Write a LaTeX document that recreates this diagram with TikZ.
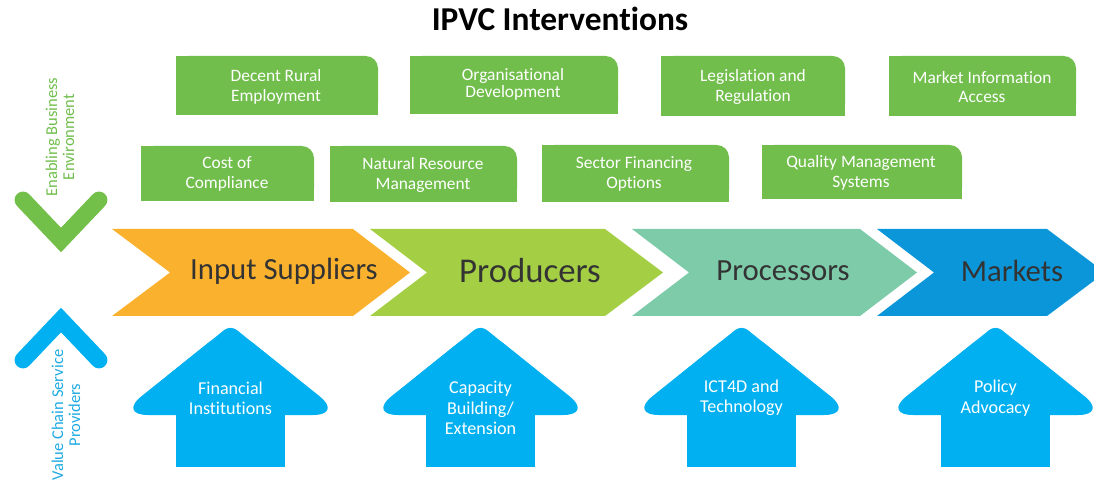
\documentclass[tikz,border=0pt]{standalone}
\usepackage{fontspec}
\setmainfont{Carlito}[Ligatures=NoCommon]

\definecolor{boxgreen}{RGB}{113,190,76}
\definecolor{vgreen}{RGB}{114,191,74}
\definecolor{inputorange}{RGB}{250,178,46}
\definecolor{producerlime}{RGB}{164,207,69}
\definecolor{processorteal}{RGB}{126,203,170}
\definecolor{marketblue}{RGB}{10,150,216}
\definecolor{serviceblue}{RGB}{0,176,240}
\definecolor{stagegray}{RGB}{51,51,51}
\definecolor{sidegreen}{RGB}{112,190,75}
\definecolor{sideblue}{RGB}{30,170,225}

% green intervention box: only the top-right corner is rounded
\newcommand\ipvcbox[4]{%
  \fill[boxgreen, rounded corners=7pt] (#1,#2) rectangle (#3,#4);
  \fill[boxgreen] (#1,#2) rectangle ({#3-20},#4);
  \fill[boxgreen] (#1,{#2+20}) rectangle (#3,#4);
}
% upward block arrow for a service provider, centred on x = #1:
% a head with well rounded wing tips, a sharper tip and a square shaft
\newcommand\ipvcarrow[1]{%
  \fill[serviceblue, rounded corners=17pt] ({#1-112.5},415) -- (#1,325) -- ({#1+112.5},415) -- cycle;
  \fill[serviceblue, rounded corners=4.5pt] ({#1-68.4},380) -- (#1,325) -- ({#1+68.4},380) -- cycle;
  \fill[serviceblue] ({#1-54.5},405) rectangle ({#1+54.5},467);
}

\begin{document}
\begin{tikzpicture}[x=0.02cm, y=-0.02cm,
  boxtext/.style={text=white, align=center, inner sep=0pt,
    font=\fontsize{9.9}{11.3}\selectfont},
  stagetext/.style={text=stagegray, inner sep=0pt,
    font=\fontsize{17.5}{20}\selectfont},
  arrowtext/.style={text=white, align=center, inner sep=0pt,
    font=\fontsize{10.3}{11.6}\selectfont},
  sidetext/.style={align=center, rotate=90, inner sep=0pt,
    font=\fontsize{9.4}{9.6}\selectfont}]

\useasboundingbox (0,0) rectangle (1094,482);
\clip (0,0) rectangle (1094,482);

% title
\node[font=\bfseries\fontsize{19}{21}\selectfont, inner sep=0pt] (title) at (560,19) {IPVC Interventions};

% enabling business environment boxes
\ipvcbox{176}{56}{378}{115}
\ipvcbox{410}{56}{618}{114}
\ipvcbox{661}{56}{845}{116}
\ipvcbox{889}{56}{1076}{116}
\ipvcbox{141}{146}{314}{201}
\ipvcbox{330}{146}{517}{202}
\ipvcbox{542}{145}{729}{202}
\ipvcbox{762}{145}{962}{199}

\node[boxtext] (dre) at (276,87) {Decent Rural\\Employment};
\node[boxtext, font=\fontsize{9.9}{9.8}\selectfont] (od) at (513,84) {Organisational\\Development};
\node[boxtext] (lr) at (753,87) {Legislation and\\Regulation};
\node[boxtext] (mia) at (982,87) {Market Information\\Access};
\node[boxtext] (coc) at (227,174) {Cost of\\Compliance};
\node[boxtext] (nrm) at (423,175) {Natural Resource\\Management};
\node[boxtext] (sfo) at (634,174) {Sector Financing\\Options};
\node[boxtext] (qms) at (861,173) {Quality Management\\Systems};

% value chain stages
\fill[inputorange] (112,229) -- (353,229) -- (410,272.5) -- (353,316) -- (112,316) -- (170,272.5) -- cycle;
\fill[producerlime] (370,229) -- (605,229) -- (663,272.5) -- (605,316) -- (370,316) -- (427,272.5) -- cycle;
\fill[processorteal] (632,229) -- (860,229) -- (917,272.5) -- (860,316) -- (632,316) -- (689,272.5) -- cycle;
\fill[marketblue] (877,229) -- (1047,229) -- (1105,272.5) -- (1047,316) -- (877,316) -- (934,272.5) -- cycle;

\node[stagetext] (inp) at (284,271) {Input Suppliers};
\node[stagetext, font=\fontsize{19.8}{22}\selectfont] (prod) at (530,271) {Producers};
\node[stagetext] (proc) at (783,271) {Processors};
\node[stagetext] (mkt) at (1012,271) {Markets};

% value chain service providers
\ipvcarrow{230.5}
\ipvcarrow{480.5}
\ipvcarrow{741.5}
\ipvcarrow{995.5}

\node[arrowtext] (fin) at (230.5,398) {Financial\\Institutions};
\node[arrowtext] (cap) at (480.5,408) {Capacity\\Building/\\Extension};
\node[arrowtext] (ict) at (741.5,398) {ICT4D and\\Technology};
\node[arrowtext] (pol) at (995.5,398) {Policy\\Advocacy};

% side markers
\draw[vgreen, line width=9.6pt, line cap=round, line join=miter] (23,200) -- (61,240) -- (99,200);
\draw[serviceblue, line width=9.6pt, line cap=round, line join=miter] (23,360) -- (61,320) -- (99,360);

\node[sidetext, text=sidegreen] (ebe) at (60,137) {Enabling Business\\Environment};
\node[sidetext, text=sideblue] (vcsp) at (66,415) {Value Chain Service\\Providers};

\end{tikzpicture}
\end{document}
